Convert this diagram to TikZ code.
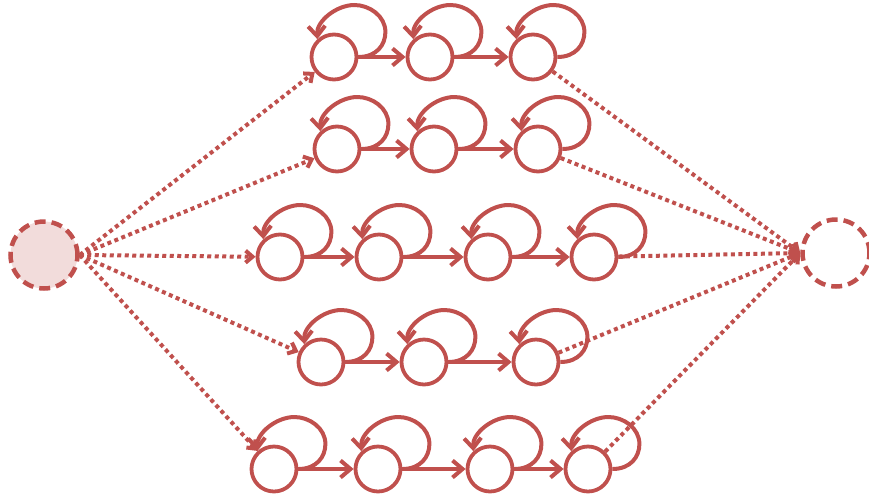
\documentclass[tikz,border=0pt]{standalone}
\usetikzlibrary{arrows.meta}
\definecolor{hmmred}{HTML}{C0504D}
\definecolor{hmmpink}{HTML}{F2DCDB}

\begin{document}
\begin{tikzpicture}[x=1pt, y=-1pt,
  state/.style={circle, draw=hmmred, fill=white, line width=3.8pt,
                minimum size=45pt, inner sep=0pt},
  terminal/.style={circle, draw=hmmred, line width=4.5pt,
                   dash pattern=on 11pt off 6pt, minimum size=67pt, inner sep=0pt},
  trans/.style={draw=hmmred, line width=4pt, -{Straight Barb[length=10pt,width=17pt]}},
  skip/.style={draw=hmmred, line width=4pt, dash pattern=on 4pt off 3.5pt,
               -{Straight Barb[length=7pt,width=12pt]}}]
\useasboundingbox (0,0) rectangle (869,499);
\node[terminal, fill=hmmpink] (start) at (44,255) {};
\node[terminal, fill=white] (end) at (836,253) {};
\foreach \r/\y/\n/\xs in {1/57/3/{334,430,533}, 2/149/3/{337,434,538},
    3/257/4/{280,379,488,594}, 4/362/3/{321,424,536}, 5/469/4/{274,378,490,588}} {
  \foreach \x [count=\c] in \xs
    \node[state] (s\r-\c) at (\x,\y) {};
  % self loops
  \foreach \c in {1,...,\n}
    \draw[trans] (s\r-\c.east) .. controls +(18,0) and +(0,13) .. ++(27,-25)
      .. controls +(0,-16) and +(15,0) .. ++(-31,-27)
      .. controls +(-18,0) and +(-1,-18) .. (s\r-\c.133);
  % chain
  \foreach \c [count=\p] in {2,...,\n}
    \draw[trans] (s\r-\p) -- (s\r-\c);
  \draw[skip] (start.east) -- (s\r-1);
  \draw[skip] (s\r-\n) -- (end.west);
}
\end{tikzpicture}
\end{document}
